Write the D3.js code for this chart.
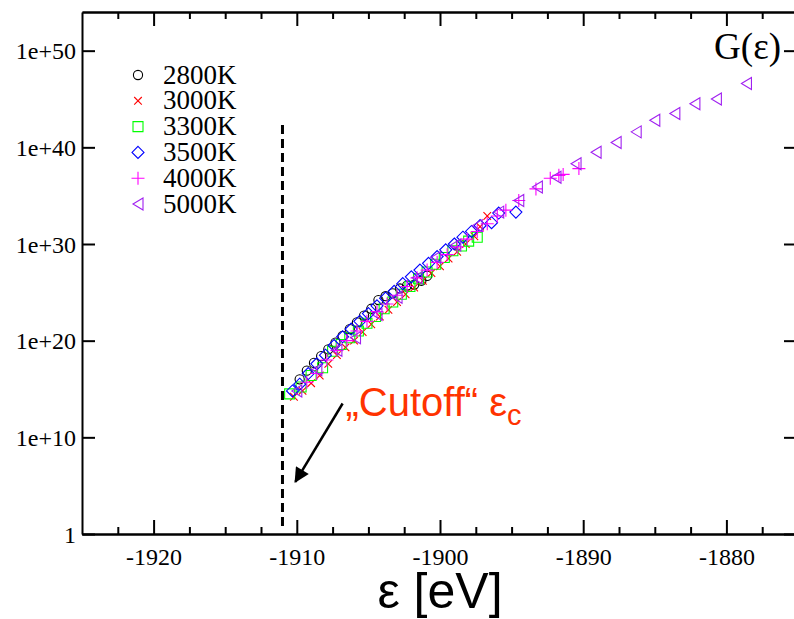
<!DOCTYPE html>
<html>
<head>
<meta charset="utf-8">
<script src="https://cdn.jsdelivr.net/npm/d3@7"></script>
<style>
  body { margin: 0; background: #fff; }
  svg { display: block; }
</style>
</head>
<body>
<div id="chart"></div>
<script>
const width = 794, height = 619;

// series labels, colours and symbols, in drawing order
const temps = ["2800K", "3000K", "3300K", "3500K", "4000K", "5000K"];
const colors = ["#000000", "#ff0000", "#00ff00", "#0000ff", "#ff00ff", "#a020f0"];
const shapes = ["circle", "cross", "square", "diamond", "plus", "triangle"];

// each point: [energy in eV, log10 G]
const s2800 = [[-1909.8,16.0],[-1909.3,16.9],[-1908.8,17.7],[-1908.3,18.4],[-1907.8,19.1],[-1907.3,19.8],
  [-1906.8,20.5],[-1906.3,21.2],[-1905.8,21.9],[-1905.3,22.6],[-1904.8,23.3],[-1904.3,24.2],[-1903.8,24.6],
  [-1903.3,24.9],[-1902.8,25.4],[-1902.3,25.7],[-1901.8,25.8],[-1901.3,26.2],[-1900.9,26.7]];
const s3000 = [[-1910.2,14.2],[-1909.6,14.8],[-1909.0,15.6],[-1908.4,16.4],[-1907.8,17.6],[-1907.2,18.5],
  [-1906.6,19.3],[-1906.0,20.0],[-1905.4,20.9],[-1904.8,21.7],[-1904.2,22.5],[-1903.6,23.2],[-1903.0,24.0],
  [-1902.4,24.8],[-1901.8,25.5],[-1901.2,26.2],[-1900.6,27.0],[-1900.0,27.7],[-1899.4,28.5],[-1898.8,29.2],
  [-1898.2,30.0],[-1897.6,30.8],[-1897.2,31.8],[-1896.7,32.9]];
const s3300 = [[-1910.5,14.5],[-1909.7,15.2],[-1909.0,16.4],[-1908.2,17.2],[-1907.5,18.9],[-1906.9,19.6],
  [-1906.3,20.3],[-1905.7,21.0],[-1905.1,21.8],[-1904.5,22.5],[-1903.9,23.3],[-1903.3,24.0],[-1902.7,24.8],
  [-1902.1,25.6],[-1901.5,26.4],[-1900.9,27.1],[-1900.3,27.9],[-1899.7,28.6],[-1899.1,29.3],[-1898.5,29.8],
  [-1898.0,30.3],[-1897.4,30.7]];
const s3500 = [[-1910.3,14.8],[-1909.8,15.5],[-1909.2,16.6],[-1908.6,17.6],[-1908.0,18.5],[-1907.4,19.5],
  [-1906.8,20.4],[-1906.2,21.2],[-1905.6,22.0],[-1905.0,22.8],[-1904.4,23.6],[-1903.8,24.4],[-1903.2,25.1],
  [-1902.6,25.9],[-1902.0,26.6],[-1901.4,27.3],[-1900.8,28.0],[-1900.2,28.7],[-1899.6,29.4],[-1899.0,30.0],
  [-1898.4,30.7],[-1897.8,31.3],[-1897.2,31.9],[-1896.4,32.2],[-1895.9,33.2],[-1894.7,33.3]];
const s4000 = [[-1909.3,15.7],[-1908.6,16.6],[-1907.9,18.0],[-1907.2,19.0],[-1906.5,20.0],[-1905.8,21.0],
  [-1905.1,22.0],[-1904.4,23.0],[-1903.7,23.8],[-1903.0,24.7],[-1902.3,25.6],[-1901.6,26.5],[-1900.9,27.3],
  [-1900.2,28.1],[-1899.5,28.9],[-1898.8,29.7],[-1898.1,30.5],[-1897.4,31.3],[-1896.7,32.1],[-1896.0,32.9],
  [-1895.4,33.5],[-1894.5,34.5],[-1893.3,35.7],[-1892.3,36.8],[-1891.7,37.1],[-1891.4,37.2],[-1890.3,37.8]];
const s5000 = [[-1910.0,14.8],[-1908.6,17.0],[-1907.2,19.0],[-1905.9,20.3],[-1904.4,22.7],[-1903.0,24.5],
  [-1901.6,26.5],[-1900.3,28.6],[-1898.9,29.9],[-1897.4,31.9],[-1895.9,33.3],[-1894.5,34.5],[-1893.2,35.9],
  [-1891.9,36.9],[-1890.5,38.3],[-1889.1,39.5],[-1887.7,40.5],[-1886.3,41.6],[-1885.0,42.8],[-1883.6,43.5],
  [-1882.2,44.5],[-1880.7,45.0],[-1878.6,46.6]];
const seriesData = [s2800, s3000, s3300, s3500, s4000, s5000];

const xTicks = [-1920, -1910, -1900, -1890, -1880];
const xTickLabels = ["-1920", "-1910", "-1900", "-1890", "-1880"];
const yTickExp = [0, 10, 20, 30, 40, 50];
const yTickLabels = ["1", "1e+10", "1e+20", "1e+30", "1e+40", "1e+50"];

// cutoff marker: energy, log10 range of the dashed line, arrow and label anchors
const cutoffEps = -1911, cutoffSpan = [0.7, 42.3];
const arrowFrom = [-1906.8, 13.5], arrowTo = [-1910.1, 5.4];
const cutoffLabelAt = [-1906.6, 12.2];

const x = d3.scaleLinear().domain([-1925, -1875]).range([82, 798]);
const y = d3.scaleLog().domain([1, 1e54]).range([534, 12]);
const ly = v => y(Math.pow(10, v));

const svg = d3.select("#chart").append("svg")
    .attr("width", width)
    .attr("height", height)
    .attr("viewBox", [0, 0, width, height]);

const defs = svg.append("defs");
defs.append("marker")
    .attr("id", "arrowhead")
    .attr("viewBox", "0 -5 10 10")
    .attr("refX", 9)
    .attr("refY", 0)
    .attr("markerWidth", 7.5)
    .attr("markerHeight", 6)
    .attr("markerUnits", "strokeWidth")
    .attr("orient", "auto")
  .append("path")
    .attr("d", "M0,-5L10,0L0,5Z")
    .attr("fill", "#000");

const serif = "'Liberation Serif', 'Times New Roman', serif";
const sans = "'Liberation Sans', Arial, sans-serif";

// axes: major ticks inward, minor ticks every 2.5 eV
const minorX = d3.range(-1922.5, -1875, 2.5).filter(v => v % 10 !== 0);

const styleAxis = g => {
    g.select(".domain").attr("stroke", "#000").attr("stroke-width", 2);
    g.selectAll(".tick line").attr("stroke", "#000").attr("stroke-width", 2);
    g.selectAll(".tick text").attr("fill", "#000")
        .style("font-family", serif).style("font-size", "24px");
};

svg.append("g")
    .attr("transform", "translate(0,534)")
    .call(d3.axisBottom(x).tickValues(xTicks).tickSize(-14).tickSizeOuter(0).tickPadding(14)
        .tickFormat((d, i) => xTickLabels[i]))
    .call(styleAxis);
svg.append("g")
    .attr("transform", "translate(0,534)")
    .call(d3.axisBottom(x).tickValues(minorX).tickSize(-7).tickSizeOuter(0).tickFormat(""))
    .call(styleAxis);
svg.append("g")
    .attr("transform", "translate(0,12)")
    .call(d3.axisTop(x).tickValues(xTicks).tickSize(-14).tickSizeOuter(0).tickFormat(""))
    .call(styleAxis);
svg.append("g")
    .attr("transform", "translate(0,12)")
    .call(d3.axisTop(x).tickValues(minorX).tickSize(-7).tickSizeOuter(0).tickFormat(""))
    .call(styleAxis);

svg.append("g")
    .attr("transform", "translate(82,0)")
    .call(d3.axisLeft(y).tickValues(yTickExp.map(e => Math.pow(10, e)))
        .tickSize(-13).tickSizeOuter(0).tickPadding(6)
        .tickFormat((d, i) => yTickLabels[i]))
    .call(styleAxis)
    .call(g => g.selectAll(".tick text").attr("dy", "0.34em"));
svg.append("g")
    .attr("transform", "translate(798,0)")
    .call(d3.axisRight(y).tickValues(yTickExp.map(e => Math.pow(10, e)))
        .tickSize(-14).tickSizeOuter(0).tickFormat(""))
    .call(styleAxis);

// symbol paths in xmgrace style
const symbolPath = {
    circle:   "M-4.6,0a4.6,4.6 0 1,0 9.2,0a4.6,4.6 0 1,0 -9.2,0",
    cross:    "M-3.8,-3.8L3.8,3.8M-3.8,3.8L3.8,-3.8",
    square:   "M-5,-5h10v10h-10Z",
    diamond:  "M0,-6L6,0L0,6L-6,0Z",
    plus:     "M-6.5,0H6.5M0,-6.5V6.5",
    triangle: "M-5,0L5,-6L5,6Z"
};

const plot = svg.append("g");
seriesData.forEach((data, i) => {
    plot.append("g")
        .attr("fill", "none")
        .attr("stroke", colors[i])
        .attr("stroke-width", 1.1)
        .selectAll("path")
        .data(data)
        .join("path")
            .attr("transform", d => `translate(${x(d[0])},${ly(d[1])})`)
            .attr("d", symbolPath[shapes[i]]);
});

// legend
const legend = svg.append("g")
    .selectAll("g")
    .data(temps)
    .join("g")
        .attr("transform", (d, i) => `translate(138,${75 + i * 25.8})`);
legend.append("path")
    .attr("d", (d, i) => symbolPath[shapes[i]])
    .attr("fill", "none")
    .attr("stroke", (d, i) => colors[i])
    .attr("stroke-width", 1.1);
legend.append("text")
    .attr("x", 25)
    .attr("y", 8.5)
    .style("font-family", serif)
    .style("font-size", "27px")
    .text(d => d);

// cutoff line, arrow and label
svg.append("line")
    .attr("x1", x(cutoffEps)).attr("x2", x(cutoffEps))
    .attr("y1", ly(cutoffSpan[1])).attr("y2", ly(cutoffSpan[0]))
    .attr("stroke", "#000")
    .attr("stroke-width", 3)
    .attr("stroke-dasharray", "9,5");

svg.append("line")
    .attr("x1", x(arrowFrom[0])).attr("y1", ly(arrowFrom[1]))
    .attr("x2", x(arrowTo[0])).attr("y2", ly(arrowTo[1]))
    .attr("stroke", "#000")
    .attr("stroke-width", 2.5)
    .attr("marker-end", "url(#arrowhead)");

const cut = svg.append("text")
    .attr("x", x(cutoffLabelAt[0]))
    .attr("y", ly(cutoffLabelAt[1]))
    .attr("fill", "#ff3300")
    .style("font-family", sans)
    .style("font-size", "40px");
cut.append("tspan").text("\u201ECutoff\u201C \u03B5");
cut.append("tspan").attr("dy", 9).style("font-size", "29px").text("c");

// titles
svg.append("text")
    .attr("x", 781)
    .attr("y", 59)
    .attr("text-anchor", "end")
    .style("font-family", serif)
    .style("font-size", "37px")
    .text("G(\u03B5)");

svg.append("text")
    .attr("x", x(-1900))
    .attr("y", 608)
    .attr("text-anchor", "middle")
    .style("font-family", sans)
    .style("font-size", "50px")
    .text("\u03B5 [eV]");
</script>
</body>
</html>
